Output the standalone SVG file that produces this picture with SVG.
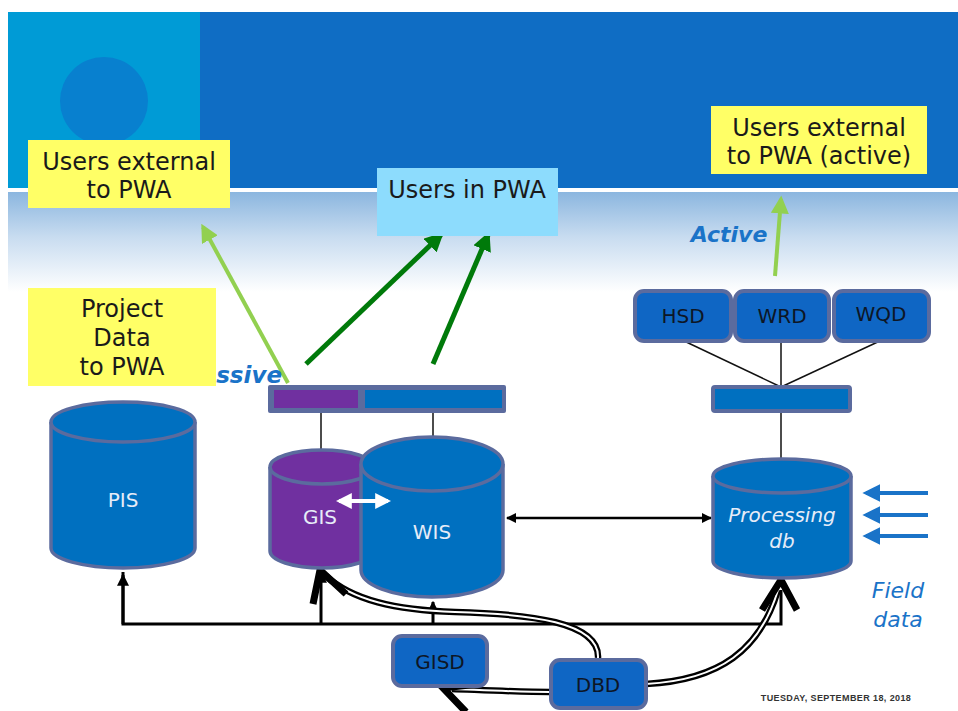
<svg xmlns="http://www.w3.org/2000/svg" width="958" height="711" viewBox="0 0 958 711">
  <style>
    .lbl { font-family: "DejaVu Sans", Verdana, sans-serif; font-size: 24px; fill: #1a1a1a; text-anchor: middle; }
    .node { font-family: "DejaVu Sans", Verdana, sans-serif; font-size: 20px; fill: #0d1626; text-anchor: middle; }
    .dbtxt { font-family: "DejaVu Sans", Verdana, sans-serif; font-size: 20px; fill: #e6ecf8; text-anchor: middle; }
    .blueit { font-family: "DejaVu Sans", Verdana, sans-serif; font-style: italic; fill: #1a73c8; }
    .yellow { fill: #ffff66; }
    .cyl { stroke: #5b6b9e; stroke-width: 3.5; }
    .box { fill: #0f66c4; stroke: #5b6b9e; stroke-width: 4; }
    .thin { stroke: #111; stroke-width: 1.5; fill: none; }
    .conn { stroke: #000; stroke-width: 3; fill: none; }
    .dblout { stroke: #000; stroke-width: 6.5; fill: none; stroke-linecap: butt; }
    .dblin { stroke: #fff; stroke-width: 2; fill: none; }
    .chev { stroke: #000; stroke-width: 7; fill: none; stroke-linejoin: miter; }
  </style>
  <defs>
    <linearGradient id="haze" x1="0" y1="0" x2="0" y2="1">
      <stop offset="0" stop-color="#8bb6df"/>
      <stop offset="0.45" stop-color="#c8dcf0"/>
      <stop offset="1" stop-color="#ffffff"/>
    </linearGradient>
    <marker id="ah" viewBox="0 0 10 10" refX="9" refY="5" markerWidth="4" markerHeight="4" orient="auto-start-reverse">
      <path d="M0,0 L10,5 L0,10 z" fill="#000"/>
    </marker>
    <marker id="ahG" viewBox="0 0 10 10" refX="8" refY="5" markerWidth="4.5" markerHeight="4.5" orient="auto">
      <path d="M0,0 L10,5 L0,10 z" fill="#92d050"/>
    </marker>
    <marker id="ahDG" viewBox="0 0 10 10" refX="8" refY="5" markerWidth="3.8" markerHeight="3.8" orient="auto">
      <path d="M0,0 L10,5 L0,10 z" fill="#007a0a"/>
    </marker>
    <marker id="ahB" viewBox="0 0 10 10" refX="8" refY="5" markerWidth="4.5" markerHeight="4.5" orient="auto">
      <path d="M0,0 L10,5 L0,10 z" fill="#1a73c8"/>
    </marker>
    <marker id="ahW" viewBox="0 0 10 10" refX="8" refY="5" markerWidth="4" markerHeight="4" orient="auto-start-reverse">
      <path d="M0,0 L10,5 L0,10 z" fill="#fff"/>
    </marker>
  </defs>

  <!-- page background and banner -->
  <rect x="0" y="0" width="958" height="711" fill="#ffffff"/>
  <rect x="8" y="12" width="950" height="176" fill="#0f6dc4"/>
  <rect x="8" y="12" width="192" height="176" fill="#009bd6"/>
  <circle cx="104" cy="101" r="44" fill="#0880cf"/>
  <rect x="8" y="188" width="950" height="4" fill="#ffffff"/>
  <rect x="8" y="192" width="950" height="100" fill="url(#haze)"/>

  <!-- connectors -->
  <g id="connectors">
    <!-- passive / active user links -->
    <line x1="288" y1="383" x2="203" y2="227" stroke="#92d050" stroke-width="4" marker-end="url(#ahG)"/>
    <line x1="306" y1="364" x2="441" y2="235" stroke="#007a0a" stroke-width="5" marker-end="url(#ahDG)"/>
    <line x1="433" y1="364" x2="488" y2="235" stroke="#007a0a" stroke-width="5" marker-end="url(#ahDG)"/>
    <line x1="775" y1="276" x2="781" y2="199" stroke="#92d050" stroke-width="4" marker-end="url(#ahG)"/>

    <!-- service bar links -->
    <line class="thin" x1="321" y1="413" x2="321" y2="450"/>
    <line class="thin" x1="433" y1="413" x2="433" y2="438"/>
    <line class="thin" x1="682" y1="340" x2="781" y2="387"/>
    <line class="thin" x1="781" y1="340" x2="781" y2="387"/>
    <line class="thin" x1="882" y1="340" x2="781" y2="387"/>
    <line class="thin" x1="781" y1="413" x2="781" y2="460"/>

    <!-- field data inputs -->
    <line x1="928" y1="493" x2="866" y2="493" stroke="#1a73c8" stroke-width="4" marker-end="url(#ahB)"/>
    <line x1="928" y1="515" x2="866" y2="515" stroke="#1a73c8" stroke-width="4" marker-end="url(#ahB)"/>
    <line x1="928" y1="536" x2="866" y2="536" stroke="#1a73c8" stroke-width="4" marker-end="url(#ahB)"/>

    <!-- WIS to processing db -->
    <line x1="507" y1="518" x2="711" y2="518" stroke="#000" stroke-width="2.5" marker-start="url(#ah)" marker-end="url(#ah)"/>

    <!-- feed bus -->
    <polyline class="conn" points="123,572 123,624 781,624 781,590"/>
    <line class="conn" x1="123" y1="624" x2="123" y2="575" marker-end="url(#ah)"/>
    <line class="conn" x1="321" y1="624" x2="321" y2="572" marker-end="url(#ah)"/>
    <line class="conn" x1="433" y1="624" x2="433" y2="602" marker-end="url(#ah)"/>

    <!-- DBD distribution (double lines) -->
    <path class="dblout" d="M598,658 C600,622 530,614 455,612 C395,610 352,600 326,576"/>
    <path class="dblin" d="M598,658 C600,622 530,614 455,612 C395,610 352,600 326,576"/>
    <polyline class="chev" points="313,604 320,570 346,594"/>

    <path class="dblout" d="M646,684 C720,680 760,650 778,590"/>
    <path class="dblin" d="M646,684 C720,680 760,650 778,590"/>
    <polyline class="chev" points="762,610 781,580 797,610"/>

    <path class="dblout" d="M550,692 C520,692 480,690 452,689"/>
    <path class="dblin" d="M550,692 C520,692 480,690 452,689"/>
    <polyline class="chev" points="478,684 443,688 466,712"/>
  </g>

  <!-- label boxes -->
  <g id="users-external">
    <rect class="yellow" x="28" y="140" width="202" height="68"/>
    <text class="lbl" x="129" y="170">Users external</text>
    <text class="lbl" x="129" y="198">to PWA</text>
  </g>
  <g id="users-in-pwa">
    <rect x="377" y="168" width="181" height="68" fill="#8ddcfd"/>
    <text class="lbl" x="467" y="198">Users in PWA</text>
  </g>
  <g id="users-external-active">
    <rect class="yellow" x="711" y="106" width="216" height="68"/>
    <text class="lbl" x="819" y="136">Users external</text>
    <text class="lbl" x="819" y="164">to PWA (active)</text>
  </g>
  <g id="passive-label">
    <text class="blueit" x="282" y="383" font-size="23" font-weight="bold" text-anchor="end">ssive</text>
  </g>
  <g id="project-data">
    <rect class="yellow" x="28" y="288" width="188" height="98"/>
    <text class="lbl" x="122" y="317">Project</text>
    <text class="lbl" x="122" y="346">Data</text>
    <text class="lbl" x="122" y="375">to PWA</text>
  </g>
  <g id="active-label">
    <text class="blueit" x="729" y="242" font-size="22" font-weight="bold" text-anchor="middle">Active</text>
  </g>

  <!-- service bars -->
  <g id="bar-left">
    <rect x="268" y="385" width="238" height="28" rx="2" fill="#5b6b9e"/>
    <rect x="274" y="390" width="84" height="18" fill="#7030a0"/>
    <rect x="365" y="390" width="137" height="18" fill="#0070c0"/>
  </g>
  <g id="bar-right">
    <rect x="713" y="387" width="137" height="24" fill="#0070c0" stroke="#5b6b9e" stroke-width="4" rx="2"/>
  </g>

  <!-- dataset boxes -->
  <g id="hsd">
    <rect class="box" x="635" y="291" width="96" height="50" rx="9"/>
    <text class="node" x="683" y="323">HSD</text>
  </g>
  <g id="wrd">
    <rect class="box" x="735" y="291" width="94" height="50" rx="9"/>
    <text class="node" x="782" y="323">WRD</text>
  </g>
  <g id="wqd">
    <rect class="box" x="834" y="291" width="95" height="50" rx="9"/>
    <text class="node" x="881" y="321">WQD</text>
  </g>

  <!-- databases -->
  <g id="pis">
    <path class="cyl" fill="#0070c0" d="M51,422 V548 A72,20 0 0 0 195,548 V422"/>
    <ellipse class="cyl" fill="#0070c0" cx="123" cy="422" rx="72" ry="20"/>
    <text class="dbtxt" x="123" y="507">PIS</text>
  </g>
  <g id="gis">
    <path class="cyl" fill="#7030a0" d="M270,467 V551 A52,17 0 0 0 374,551 V467"/>
    <ellipse class="cyl" fill="#7030a0" cx="322" cy="467" rx="52" ry="17"/>
    <text class="dbtxt" x="320" y="524">GIS</text>
  </g>
  <g id="wis">
    <path class="cyl" fill="#0070c0" d="M361,464 V570 A71,27 0 0 0 503,570 V464"/>
    <ellipse class="cyl" fill="#0070c0" cx="432" cy="464" rx="71" ry="27"/>
    <text class="dbtxt" x="432" y="539">WIS</text>
  </g>
  <g id="processing-db">
    <path class="cyl" fill="#0070c0" d="M713,476 V561 A69,17 0 0 0 851,561 V476"/>
    <ellipse class="cyl" fill="#0070c0" cx="782" cy="476" rx="69" ry="17"/>
    <text class="dbtxt" x="782" y="522" font-size="18" font-style="italic">Processing</text>
    <text class="dbtxt" x="782" y="548" font-size="18" font-style="italic">db</text>
  </g>

  <!-- GIS/WIS exchange -->
  <line x1="339" y1="501" x2="388" y2="501" stroke="#fff" stroke-width="4" marker-start="url(#ahW)" marker-end="url(#ahW)"/>

  <!-- source boxes -->
  <g id="gisd">
    <rect class="box" x="393" y="636" width="94" height="50" rx="9"/>
    <text class="node" x="440" y="669">GISD</text>
  </g>
  <g id="dbd">
    <rect class="box" x="551" y="660" width="95" height="48" rx="9"/>
    <text class="node" x="598" y="692">DBD</text>
  </g>

  <g id="field-data">
    <text class="blueit" x="898" y="598" font-size="22" text-anchor="middle">Field</text>
    <text class="blueit" x="898" y="627" font-size="22" text-anchor="middle">data</text>
  </g>

  <text x="836" y="701" font-family="Liberation Sans, Arial, sans-serif" font-size="9" font-weight="bold" letter-spacing="0.4" fill="#333" text-anchor="middle">TUESDAY, SEPTEMBER 18, 2018</text>
</svg>
